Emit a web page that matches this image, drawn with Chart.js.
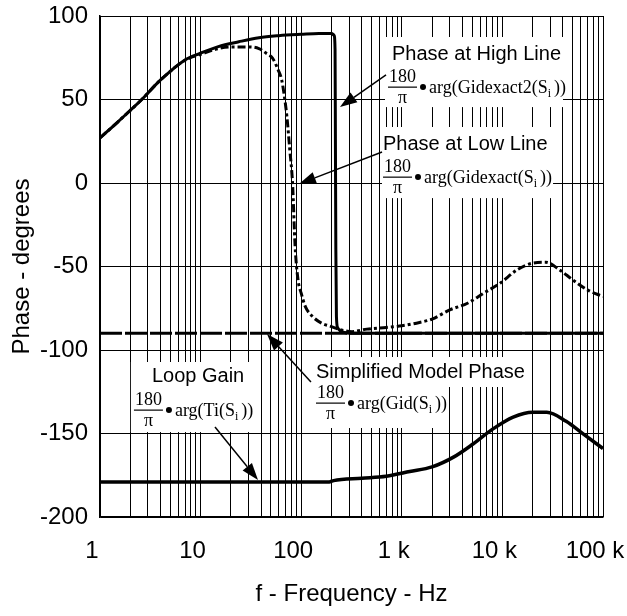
<!DOCTYPE html>
<html>
<head>
<meta charset="utf-8">
<title>Phase - degrees</title>
<script src="https://cdn.jsdelivr.net/npm/chart.js@4/dist/chart.umd.min.js"></script>
<style>
  html, body { margin: 0; padding: 0; background: #fff; }
  #wrap { width: 627px; height: 616px; }
</style>
</head>
<body>
<div id="wrap"><canvas id="phaseChart" width="627" height="616"></canvas></div>
<script>
// Phase vs frequency
const highFreq  = [1, 1.5, 2, 2.6, 4, 7, 10, 15, 24, 38, 60, 100, 150, 200, 212, 217, 219, 221, 224, 230, 245, 270, 350, 1000, 10000, 100000];
const highPhase = [27, 36.5, 43.5, 50, 61.7, 73.7, 77.7, 81.7, 84.6, 87, 88.2, 89, 89.5, 89.5, 88.5, 80, 20, -40, -80, -86.5, -88.5, -89.5, -90, -90, -90, -90];

const lowFreq  = [1, 1.5, 2, 2.6, 4, 7, 10, 15, 20, 30, 38, 45, 52, 59, 64, 68, 72, 77, 82, 87, 93, 100, 110, 130, 160, 200, 250, 320, 450, 700, 1000, 1500, 2000, 3000, 4500, 6500, 9500, 14000, 20000, 27000, 37000, 50000, 70000, 100000];
const lowPhase = [27, 36.5, 43.5, 50, 61.7, 73.5, 77, 80.5, 81.5, 81.5, 80.5, 77.7, 74.7, 67.7, 61.7, 52, 40, 20, 0, -38, -58, -66, -74, -80, -84, -86, -88, -89, -87.5, -86.5, -85.5, -83.5, -81.5, -76, -72, -66, -60, -52, -48, -47.5, -52, -58, -64, -68];

const simpFreq  = [1, 100000];
const simpPhase = [-90, -90];

const loopFreq  = [1, 190, 210, 400, 700, 1200, 2000, 3300, 5100, 8000, 12800, 20000, 27600, 43000, 64000, 100000];
const loopPhase = [-179, -179, -178.2, -176.8, -175.6, -172.8, -170, -164, -156.3, -147.4, -140.2, -137.3, -137.3, -142.7, -150.4, -159];

const xTickValues = [1, 10, 100, 1000, 10000, 100000];
const xTickLabels = ['1', '10', '100', '1 k', '10 k', '100 k'];

const fontSans = "'Liberation Sans', Arial, sans-serif";
const fontSerif = "'Liberation Serif', 'Times New Roman', serif";

// log grid: 1..9 in every decade
const gridTicks = [];
for (let d = 1; d < 100000; d *= 10) {
  for (let m = 1; m < 10; m++) gridTicks.push(m * d);
}
gridTicks.push(100000);

function toPoints(xs, ys) {
  return xs.map((x, i) => ({ x: x, y: ys[i] }));
}

// keep the plot box fixed, no extra room for overhanging labels
function noScalePadding(s) {
  s.paddingLeft = 0;
  s.paddingRight = 0;
  s.paddingTop = 0;
  s.paddingBottom = 0;
}

// text callouts: box anchored in data units, inner layout in px
const notes = [
  { title: 'Phase at High Line', fn: 'Gidexact2', at: [681, 87.4], w: 178, titleH: 70, fnW: 178, h: 70,
    titleDx: 7, titleDy: 23, barDx: 3, barDy: 50, arrow: [[697, 64.7], [243, 45.5]] },
  { title: 'Phase at Low Line', fn: 'Gidexact', at: [636, 33.5], w: 171, titleH: 71, fnW: 171, h: 71,
    titleDx: 1, titleDy: 23, barDx: 1, barDy: 50, arrow: [[636, 18.6], [95, -0.6]] },
  { title: 'Simplified Model Phase', fn: 'Gid', at: [131, -104.2], w: 219, titleH: 30, fnW: 134, h: 71,
    titleDx: 3, titleDy: 21, barDx: 3, barDy: 46, arrow: [[125, -119.2], [45.7, -90.4]] },
  { title: 'Loop Gain', fn: 'Ti', at: [2.03, -107.2], w: 127, titleH: 70, fnW: 127, h: 70,
    titleDx: 21, titleDy: 20, barDx: 3, barDy: 48, arrow: [[13.9, -146.1], [37.2, -177.8]] }
];

function drawFormula(ctx, x, y, fn) {
  ctx.font = '18px ' + fontSerif;
  const barW = ctx.measureText('180').width + 2;
  ctx.textBaseline = 'alphabetic';
  ctx.textAlign = 'center';
  ctx.fillText('180', x + barW / 2, y - 5);
  ctx.fillText('π', x + barW / 2, y + 16);
  ctx.fillRect(x, y - 0.5, barW, 1.2);
  ctx.beginPath();
  ctx.arc(x + barW + 6, y, 3, 0, 2 * Math.PI);
  ctx.fill();
  ctx.textAlign = 'left';
  let tx = x + barW + 12;
  const head = 'arg(' + fn + '(S';
  ctx.fillText(head, tx, y + 6);
  tx += ctx.measureText(head).width;
  ctx.font = '12px ' + fontSerif;
  ctx.fillText('i', tx, y + 10);
  tx += ctx.measureText('i').width + 3;
  ctx.font = '18px ' + fontSerif;
  ctx.fillText('))', tx, y + 6);
}

function drawArrow(ctx, x1, y1, x2, y2) {
  const ang = Math.atan2(y2 - y1, x2 - x1);
  const len = 17, half = 6;
  const bx = x2 - len * Math.cos(ang), by = y2 - len * Math.sin(ang);
  ctx.lineWidth = 1.5;
  ctx.beginPath();
  ctx.moveTo(x1, y1);
  ctx.lineTo(bx, by);
  ctx.stroke();
  ctx.beginPath();
  ctx.moveTo(x2, y2);
  ctx.lineTo(bx + half * Math.sin(ang), by - half * Math.cos(ang));
  ctx.lineTo(bx - half * Math.sin(ang), by + half * Math.cos(ang));
  ctx.closePath();
  ctx.fill();
}

const calloutPlugin = {
  id: 'callouts',
  beforeDatasetsDraw(chart) {
    const ctx = chart.ctx, xs = chart.scales.x, ys = chart.scales.y;
    ctx.save();
    ctx.fillStyle = '#fff';
    notes.forEach(n => {
      const bx = xs.getPixelForValue(n.at[0]), by = ys.getPixelForValue(n.at[1]);
      ctx.fillRect(bx, by, n.w, n.titleH);
      ctx.fillRect(bx, by, n.fnW, n.h);
    });
    ctx.restore();
  },
  afterDatasetsDraw(chart) {
    const ctx = chart.ctx, xs = chart.scales.x, ys = chart.scales.y;
    ctx.save();
    ctx.fillStyle = '#000';
    ctx.strokeStyle = '#000';
    notes.forEach(n => {
      const bx = xs.getPixelForValue(n.at[0]), by = ys.getPixelForValue(n.at[1]);
      ctx.font = '20px ' + fontSans;
      ctx.textAlign = 'left';
      ctx.textBaseline = 'alphabetic';
      ctx.fillText(n.title, bx + n.titleDx, by + n.titleDy);
      drawFormula(ctx, bx + n.barDx, by + n.barDy, n.fn);
      const a = n.arrow;
      drawArrow(ctx,
        xs.getPixelForValue(a[0][0]), ys.getPixelForValue(a[0][1]),
        xs.getPixelForValue(a[1][0]), ys.getPixelForValue(a[1][1]));
    });
    ctx.restore();
  }
};

const ctx = document.getElementById('phaseChart').getContext('2d');
const phaseChart = new Chart(ctx, {
  type: 'line',
  data: {
    datasets: [
      { label: 'Phase at High Line', data: toPoints(highFreq, highPhase),
        borderColor: '#000', borderWidth: 3, cubicInterpolationMode: 'monotone' },
      { label: 'Phase at Low Line', data: toPoints(lowFreq, lowPhase),
        borderColor: '#000', borderWidth: 3, borderDash: [8, 3, 3, 3], cubicInterpolationMode: 'monotone' },
      { label: 'Loop Gain', data: toPoints(loopFreq, loopPhase),
        borderColor: '#000', borderWidth: 3.5, cubicInterpolationMode: 'monotone' },
      { label: 'Simplified Model Phase', data: toPoints(simpFreq, simpPhase),
        borderColor: '#000', borderWidth: 3, borderDash: [22, 3] }
    ]
  },
  options: {
    responsive: false,
    animation: false,
    events: [],
    layout: { autoPadding: false, padding: { left: 0, right: 24, top: 16, bottom: 0 } },
    elements: { point: { radius: 0 }, line: { fill: false } },
    plugins: { legend: { display: false }, tooltip: { enabled: false } },
    scales: {
      x: {
        type: 'logarithmic',
        min: 1,
        max: 100000,
        afterBuildTicks: s => { s.ticks = gridTicks.map(v => ({ value: v })); },
        afterFit: s => { s.height = 99; noScalePadding(s); },
        grid: { color: '#000', lineWidth: 1, drawTicks: false },
        border: { color: '#000', width: 1.5 },
        ticks: {
          autoSkip: false,
          maxRotation: 0,
          padding: 20,
          labelOffset: -8,
          color: '#000',
          font: { family: fontSans, size: 24 },
          callback: v => {
            const i = xTickValues.indexOf(v);
            return i >= 0 ? xTickLabels[i] : '';
          }
        },
        title: {
          display: true,
          text: 'f - Frequency - Hz',
          color: '#000',
          font: { family: fontSans, size: 24 },
          padding: { top: 0, bottom: 7 }
        }
      },
      y: {
        min: -200,
        max: 100,
        afterFit: s => { s.width = 100; noScalePadding(s); },
        grid: { color: '#000', lineWidth: 1, drawTicks: false },
        border: { color: '#000', width: 1.5 },
        ticks: {
          stepSize: 50,
          padding: 12,
          color: '#000',
          font: { family: fontSans, size: 24 }
        },
        title: {
          display: true,
          text: 'Phase - degrees',
          color: '#000',
          font: { family: fontSans, size: 24 },
          padding: { top: 8, bottom: 0 }
        }
      }
    }
  },
  plugins: [calloutPlugin]
});
</script>
</body>
</html>
